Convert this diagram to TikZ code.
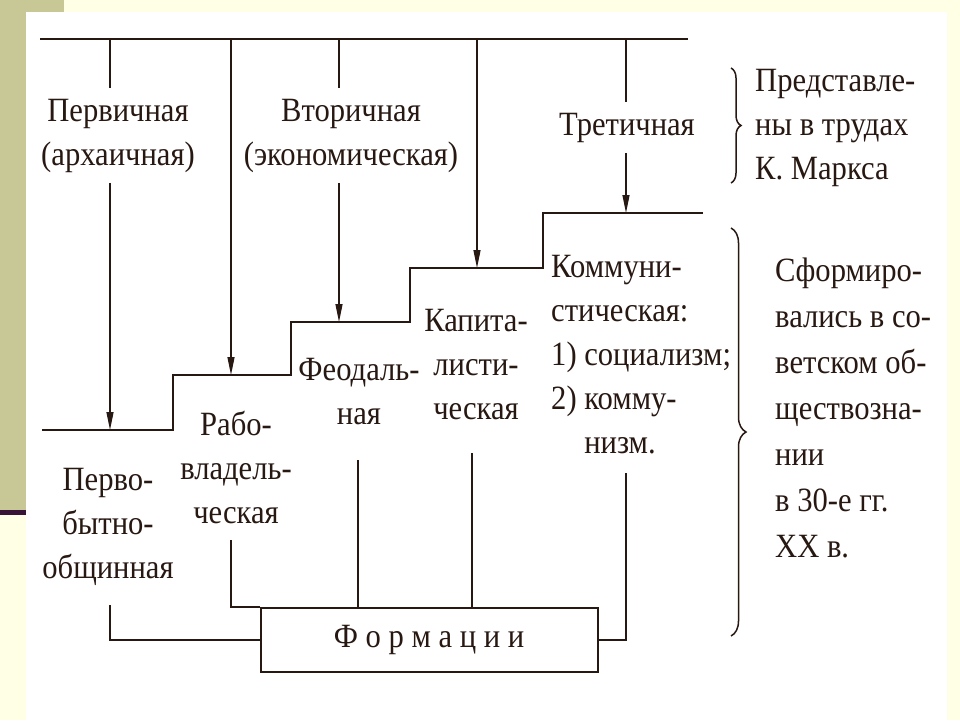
\documentclass[tikz,border=0pt]{standalone}
\usepackage{fontspec}
\setmainfont{Liberation Serif}[FakeStretch=0.9]
\usetikzlibrary{arrows.meta,decorations.pathreplacing}
\definecolor{ink}{RGB}{40,24,18}
\definecolor{khaki}{RGB}{200,200,150}
\definecolor{paper}{RGB}{255,255,230}
\definecolor{stripe}{RGB}{55,20,55}
\begin{document}
\begin{tikzpicture}[x=1pt, y=-1pt,
    txt/.style={inner sep=0pt, text=ink, align=center, font=\fontsize{34}{44}\selectfont},
    txtl/.style={txt, align=left},
    vline/.style={ink, line width=1.3pt},
    hline/.style={ink, line width=2.2pt},
    arr/.style={vline, -{Triangle[width=7pt,length=18pt]}},
    brc/.style={ink, line width=1.5pt, decorate, decoration={brace, amplitude=#1}}]
    \fill[paper] (0,0) rectangle (960,720);
    \fill[khaki] (0,0) rectangle (26,510);
    \fill[khaki] (26,0) rectangle (64,12);
    \fill[stripe] (0,510) rectangle (26,515);
    \fill[white] (26,12) rectangle (947,720);
    \useasboundingbox (0,0) rectangle (960,720);

    \coordinate (t1) at (110,39);
    \coordinate (t2) at (231,39);
    \coordinate (t3) at (339,39);
    \coordinate (t4) at (477,39);
    \coordinate (t5) at (626,39);
    \coordinate (tr) at (688,39);
    \coordinate (s1) at (110,430);
    \coordinate (s2) at (231,375);
    \coordinate (s3) at (339,322);
    \coordinate (s4) at (477,268);
    \coordinate (s5) at (626,213);

    \node[txt] (perv) at (118,136) {Первичная\\(архаичная)};
    \node[txt] (vtor) at (351,136) {Вторичная\\(экономическая)};
    \node[txt] (tret) at (627,128) {Третичная};

    \draw[hline] (40,39) -- (tr);
    \draw[vline, shorten >=11pt] (t1) -- (t1 |- perv.north);
    \draw[arr, shorten <=10pt] (t1 |- perv.south) -- (s1);
    \draw[arr] (t2) -- (s2);
    \draw[vline, shorten >=11pt] (t3) -- (t3 |- vtor.north);
    \draw[arr, shorten <=10pt] (t3 |- vtor.south) -- (s3);
    \draw[arr] (t4) -- (s4);
    \draw[vline, shorten >=11pt] (t5) -- (t5 |- tret.north);
    \draw[arr, shorten <=10pt] (t5 |- tret.south) -- (s5);

    \draw[hline] (42,430) -| (173,375) -| (291,322) -| (410,268) -| (543,213) -- (703,213);

    \node[txt] (pervob) at (108,527) {Перво-\\бытно-\\общинная};
    \node[txt] (rabo) at (236,467) {Рабо-\\владель-\\ческая};
    \node[txt] (feod) at (359,392) {Феодаль-\\ная};
    \node[txt] (kapit) at (476,365) {Капита-\\листи-\\ческая};
    \node[txtl, anchor=west] (kommun) at (551,358) {Коммуни-\\стическая:\\1) социализм;\\2) комму-\\\phantom{2) }низм.};

    \node[txt, draw=ink, line width=2pt, minimum width=337pt, minimum height=64pt] (form) at (429,640) {Ф о р м а ц и и};

    \coordinate (b1) at (110,605);
    \coordinate (b2) at (231,540);
    \coordinate (b3) at (358,460);
    \coordinate (b4) at (472,453);
    \coordinate (b5) at (626,473);
    \draw[hline, line width=1.8pt] (b1) |- (form.west);
    \draw[hline, line width=1.8pt] (b2) |- (form.north west);
    \draw[vline] (b3) -- (b3 |- form.north);
    \draw[vline] (b4) -- (b4 |- form.north);
    \draw[hline, line width=1.8pt] (b5) |- (form.east);

    \draw[brc=10pt] (731,68) -- (731,183);
    \draw[brc=15pt] (731,228) -- (731,636);
    \node[txtl, anchor=west] (marx) at (755,128) {Представле-\\ны в трудах\\К. Маркса};
    \node[txtl, anchor=west, font=\fontsize{34}{46}\selectfont] (sovet) at (775,408) {Сформиро-\\вались в со-\\ветском об-\\ществозна-\\нии\\в 30-е гг.\\XX в.};
\end{tikzpicture}
\end{document}
